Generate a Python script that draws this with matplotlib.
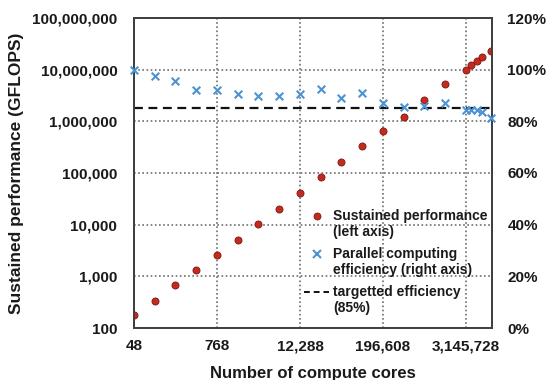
import matplotlib
matplotlib.use("Agg")
import matplotlib.pyplot as plt
from matplotlib.lines import Line2D
from matplotlib.legend_handler import HandlerLine2D
from matplotlib.ticker import FixedLocator, FuncFormatter, NullLocator

plt.rcParams['font.family'] = ['Liberation Sans', 'DejaVu Sans']
plt.rcParams['font.weight'] = 'bold'

# Strong-scaling measurements
cores = [48, 96, 192, 384, 768, 1536, 3072, 6144, 12288, 24576, 49152,
         98304, 196608, 393216, 786432, 1572864, 3145728,
         3760000, 4500000, 5300000, 7200000]
perf_gflops = [178, 337, 670, 1310, 2590, 5120, 10150, 20100, 41600, 84700,
               163000, 333000, 650000, 1230000, 2550000, 5200000, 9840000,
               12300000, 14700000, 17300000, 23000000]
efficiency_pct = [100, 97.5, 95.6, 92, 92, 90.5, 89.9, 89.8, 90.7, 92.5,
                  89.2, 91.1, 87.0, 85.7, 86.1, 87.2, 84.4, 84.4, 84.4,
                  83.7, 81.2]
target_eff = 85

x_ticks = [48, 768, 12288, 196608, 3145728]
y_left_ticks = [100, 1000, 10000, 100000, 1000000, 10000000, 100000000]
y_right_ticks = [0, 20, 40, 60, 80, 100, 120]

text_color = '#1a1a1a'
red = '#c42a1e'
blue = '#4d93d2'
grid_color = '#6e6e6e'
spine_color = '#404040'

LEGEND_FONTSIZE = 10


class FirstLineHandler(HandlerLine2D):
    """Place the legend key level with the first line of a two-line label."""

    def create_artists(self, legend, orig_handle, xdescent, ydescent,
                       width, height, fontsize, trans):
        artists = super().create_artists(legend, orig_handle, xdescent, ydescent,
                                         width, height, fontsize, trans)
        shift = 0.5 * fontsize * 1.15
        for a in artists:
            a.set_ydata([y + shift for y in a.get_ydata()])
        return artists


fig = plt.figure(figsize=(5.47, 3.80), dpi=100)
ax = fig.add_axes([134 / 547, 1 - 328 / 380, (492 - 134) / 547, (328 - 18) / 380])
ax2 = ax.twinx()

ax.set_xscale('log', base=2)
ax.set_yscale('log')
ax.set_xlim(48, 7.5e6)
ax.set_ylim(100, 1e8)
ax2.set_ylim(0, 120)

ax.xaxis.set_major_locator(FixedLocator(x_ticks))
ax.xaxis.set_minor_locator(NullLocator())
ax.xaxis.set_major_formatter(FuncFormatter(lambda v, p: f"{int(round(v)):,}"))
ax.yaxis.set_major_locator(FixedLocator(y_left_ticks))
ax.yaxis.set_minor_locator(NullLocator())
ax.yaxis.set_major_formatter(FuncFormatter(lambda v, p: f"{int(round(v)):,}"))
ax2.yaxis.set_major_locator(FixedLocator(y_right_ticks))
ax2.yaxis.set_major_formatter(FuncFormatter(lambda v, p: f"{int(v)}%"))

for a in (ax, ax2):
    a.tick_params(axis='both', length=0, labelsize=11, colors=text_color)
    for s in a.spines.values():
        s.set_color(spine_color)
        s.set_linewidth(1.3)
ax.tick_params(axis='y', pad=12)
ax.tick_params(axis='x', pad=8)
ax2.tick_params(axis='y', pad=11)

ax.grid(True, which='major', color=grid_color, linestyle=(0, (1, 1.5)), linewidth=1.2)
ax.set_axisbelow(True)

ax.scatter(cores, perf_gflops, s=26, color=red, edgecolors='#7a1a12',
           linewidths=0.6, zorder=3)
ax2.scatter(cores, efficiency_pct, s=30, marker='x', color=blue,
            linewidths=1.5, zorder=3, clip_on=False)
ax2.axhline(target_eff, color='#111111', linestyle=(0, (4, 2.5)), linewidth=1.6)

ax.set_xlabel('Number of compute cores', fontsize=12, fontweight='bold',
              color=text_color, labelpad=9)
ax.set_ylabel('Sustained performance (GFLOPS)', fontsize=12.5, fontweight='bold',
              color=text_color, labelpad=6)

handles = [
    Line2D([], [], linestyle='none', marker='o', markersize=5,
           markerfacecolor=red, markeredgecolor='#7a1a12', markeredgewidth=0.6),
    Line2D([], [], linestyle='none', marker='x', markersize=5.5,
           color=blue, markeredgewidth=1.5),
    Line2D([], [], color='#111111', linestyle=(0, (3, 2)), linewidth=1.4),
]
labels = ['Sustained performance\n(left axis)',
          'Parallel computing\nefficiency (right axis)',
          'targetted efficiency\n(85%)']
leg = ax2.legend(handles, labels, loc='upper left',
                 bbox_to_anchor=(304 / 547, 1 - 209 / 380),
                 bbox_transform=fig.transFigure, frameon=False,
                 fontsize=LEGEND_FONTSIZE,
                 handlelength=1.8, handletextpad=0.3, labelspacing=0.6,
                 borderaxespad=0, borderpad=0,
                 handler_map={Line2D: FirstLineHandler()})
for t in leg.get_texts():
    t.set_color(text_color)
    t.set_fontweight('bold')
    t.set_linespacing(1.15)

fig.savefig('out.png', dpi=100)
